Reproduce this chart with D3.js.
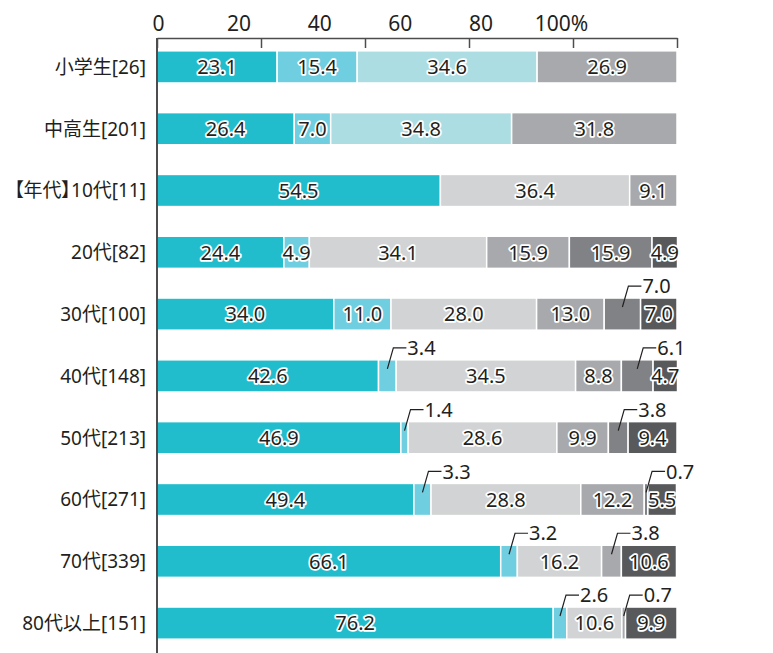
<!DOCTYPE html>
<html>
<head>
<meta charset="utf-8">
<script src="https://cdn.jsdelivr.net/npm/d3@7"></script>
<style>
  body { margin: 0; background: #fff; }
  svg { display: block; font-family: "Noto Sans", "Noto Sans CJK JP", sans-serif; }
  .cat { font-feature-settings: "palt"; }
</style>
</head>
<body>
<svg width="773" height="653"></svg>
<script>
// rows, top to bottom
let categories = ["小学生[26]", "中高生[201]", "【年代】10代[11]", "20代[82]", "30代[100]",
    "40代[148]", "50代[213]", "60代[271]", "70代[339]", "80代以上[151]"];

// series values (%), one array per segment, left to right
let seg1 = [23.1, 26.4, 54.5, 24.4, 34.0, 42.6, 46.9, 49.4, 66.1, 76.2];
let seg2 = [15.4, 7.0, 0, 4.9, 11.0, 3.4, 1.4, 3.3, 3.2, 2.6];
let seg3 = [34.6, 34.8, 36.4, 34.1, 28.0, 34.5, 28.6, 28.8, 16.2, 10.6];
let seg4 = [26.9, 31.8, 9.1, 15.9, 13.0, 8.8, 9.9, 12.2, 3.8, 0.7];
let seg5 = [0, 0, 0, 15.9, 7.0, 6.1, 3.8, 0.7, 0, 0];
let seg6 = [0, 0, 0, 4.9, 7.0, 4.7, 9.4, 5.5, 10.6, 9.9];

let tickValues = [0, 20, 40, 60, 80, 100];
let tickLabels = ["0", "20", "40", "60", "80", "100%"];

// small segments labelled outside the bar ("row:key")
let callouts = ["4:s5", "5:s2", "5:s5", "6:s2", "6:s5", "7:s2", "7:s5", "8:s2", "8:s4", "9:s2", "9:s4"];

let keys = ["s1", "s2", "s3", "s4", "s5", "s6"];
let studentColors = ["#22bdcd", "#6fcee0", "#acdde3", "#a7a9ac", "#808285", "#58595b"];
let ageColors = ["#22bdcd", "#6fcee0", "#d1d3d4", "#a7a9ac", "#808285", "#58595b"];
let textColor = "#231f20";

let table = categories.map(function (c, i) {
    return { cat: c, row: i, s1: seg1[i], s2: seg2[i], s3: seg3[i], s4: seg4[i], s5: seg5[i], s6: seg6[i] };
});

let svg = d3.select("svg");

let x = d3.scaleLinear().domain([0, 100]).range([157, 677]);
// the printed tick numbers sit on a tighter spacing than the tick marks
let xLabel = d3.scaleLinear().domain([0, 100]).range([158, 561]);
let y = d3.scaleBand().domain(categories).range([36, 654]).paddingInner(0.48).paddingOuter(0.24);

let series = d3.stack().keys(keys)(table);

let layers = svg.append("g").selectAll("g")
    .data(series)
  .enter().append("g");

layers.selectAll("rect")
    .data(function (s, i) { return s.map(function (d) { d.k = i; d.key = s.key; return d; }).filter(function (d) { return d[1] - d[0] > 0; }); })
  .enter().append("rect")
    .attr("x", function (d) { return x(d[0]); })
    .attr("y", function (d) { return y(d.data.cat); })
    .attr("width", function (d) { return x(d[1]) - x(d[0]); })
    .attr("height", y.bandwidth())
    .attr("fill", function (d) { return (d.data.row < 2 ? studentColors : ageColors)[d.k]; })
    .attr("stroke", "#fff")
    .attr("stroke-width", 1.5);

let allSegs = [];
series.forEach(function (s) {
    s.forEach(function (d) { if (d[1] - d[0] > 0) allSegs.push(d); });
});

function isCallout(d) { return callouts.indexOf(d.data.row + ":" + d.key) >= 0; }

// labels inside the bars
svg.append("g").selectAll("text")
    .data(allSegs.filter(function (d) { return !isCallout(d); }))
  .enter().append("text")
    .attr("x", function (d) { return (x(d[0]) + x(d[1])) / 2; })
    .attr("y", function (d) { return y(d.data.cat) + y.bandwidth() / 2; })
    .attr("dy", "0.36em")
    .attr("text-anchor", "middle")
    .attr("font-size", 20)
    .attr("fill", textColor)
    .attr("stroke", "#fff")
    .attr("stroke-width", 3.5)
    .attr("stroke-linejoin", "round")
    .attr("paint-order", "stroke")
    .text(function (d) { return d.data[d.key].toFixed(1); });

// labels above the bars with a leader line
let outside = svg.append("g").selectAll("g")
    .data(allSegs.filter(isCallout))
  .enter().append("g")
    .attr("transform", function (d) {
        return "translate(" + ((x(d[0]) + x(d[1])) / 2) + "," + y(d.data.cat) + ")";
    });

outside.append("path")
    .attr("d", "M0,9L6,-12H19")
    .attr("fill", "none")
    .attr("stroke", textColor)
    .attr("stroke-width", 1.2);

outside.append("text")
    .attr("x", 20)
    .attr("y", -12)
    .attr("dy", "0.36em")
    .attr("font-size", 20)
    .attr("fill", textColor)
    .text(function (d) { return d.data[d.key].toFixed(1); });

// top axis: tick marks
let axisG = svg.append("g")
    .attr("transform", "translate(0,38)")
    .call(d3.axisBottom(x).tickValues(tickValues).tickSize(10).tickSizeOuter(0).tickFormat(""));
axisG.selectAll("path, line").attr("stroke", "#4d4d4f").attr("stroke-width", 1.5);

// top axis: numbers
let labelG = svg.append("g")
    .attr("transform", "translate(0,31)")
    .call(d3.axisTop(xLabel).tickValues(tickValues).tickSize(0).tickPadding(0)
        .tickFormat(function (d, i) { return tickLabels[i]; }));
labelG.select(".domain").remove();
labelG.selectAll("text")
    .attr("font-size", 21)
    .attr("font-family", "'Noto Sans', 'Noto Sans CJK JP', sans-serif")
    .attr("fill", textColor);

// left axis line and category labels
svg.append("line")
    .attr("x1", x(0)).attr("x2", x(0))
    .attr("y1", 38).attr("y2", 653)
    .attr("stroke", "#4d4d4f")
    .attr("stroke-width", 2);

svg.append("g").selectAll("text")
    .data(categories)
  .enter().append("text")
    .attr("class", "cat")
    .attr("x", 146)
    .attr("y", function (d) { return y(d) + y.bandwidth() / 2; })
    .attr("dy", "0.36em")
    .attr("text-anchor", "end")
    .attr("font-size", 19)
    .attr("fill", textColor)
    .text(function (d) { return d; });
</script>
</body>
</html>
